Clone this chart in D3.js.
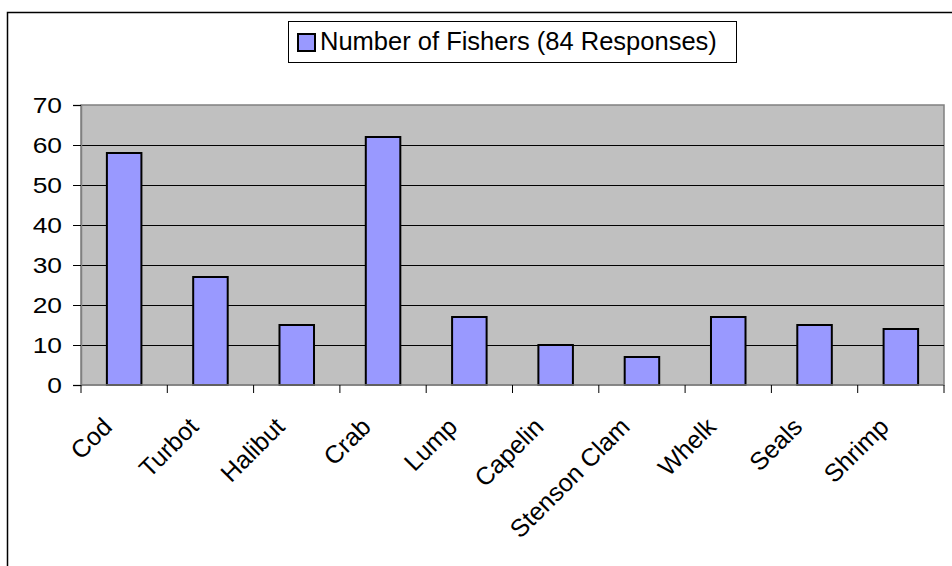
<!DOCTYPE html>
<html>
<head>
<meta charset="utf-8">
<script src="https://cdn.jsdelivr.net/npm/d3@7"></script>
<style>
  html, body { margin: 0; padding: 0; background: #fff; }
  svg { display: block; }
  text { font-family: "Liberation Sans", Arial, sans-serif; fill: #000; }
</style>
</head>
<body>
<svg id="chart" width="952" height="566"></svg>
<script>
// Species reported by fishers
const categories = ["Cod", "Turbot", "Halibut", "Crab", "Lump", "Capelin", "Stenson Clam", "Whelk", "Seals", "Shrimp"];
const fisherCounts = [58, 27, 15, 62, 17, 10, 7, 17, 15, 14];
const yTicks = [0, 10, 20, 30, 40, 50, 60, 70];
const seriesName = "Number of Fishers (84 Responses)";

const svg = d3.select("#chart");
const W = 952, H = 566;
const plot = { left: 81, right: 944, top: 105, bottom: 385 };

// Outer chart frame (runs off the right and bottom edges)
svg.append("rect")
  .attr("x", 7.5).attr("y", 12.5)
  .attr("width", W).attr("height", H)
  .attr("fill", "#fff").attr("stroke", "#000").attr("stroke-width", 1.5);

const x = d3.scaleBand().domain(categories).range([plot.left, plot.right]).paddingInner(0.6).paddingOuter(0.3);
const xEdge = d3.scaleLinear().domain([0, categories.length]).range([plot.left, plot.right]);
const y = d3.scaleLinear().domain([0, 70]).range([plot.bottom, plot.top]);

// Plot area
svg.append("rect")
  .attr("x", plot.left).attr("y", plot.top)
  .attr("width", plot.right - plot.left).attr("height", plot.bottom - plot.top)
  .attr("fill", "#c0c0c0").attr("stroke", "#808080").attr("stroke-width", 1.5);

// Gridlines
svg.append("g").selectAll("line")
  .data(yTicks.filter(d => d > 0 && d < 70))
  .join("line")
  .attr("x1", plot.left).attr("x2", plot.right)
  .attr("y1", d => Math.round(y(d)) + 0.5).attr("y2", d => Math.round(y(d)) + 0.5)
  .attr("stroke", "#000").attr("stroke-width", 1);

// Bars
svg.append("g").selectAll("rect")
  .data(categories.map((c, i) => ({ c, v: fisherCounts[i] })))
  .join("rect")
  .attr("x", d => x(d.c))
  .attr("y", d => y(d.v))
  .attr("width", x.bandwidth())
  .attr("height", d => y(0) - y(d.v))
  .attr("fill", "#9999ff")
  .attr("stroke", "#000").attr("stroke-width", 2);

// Y axis; labels use a slightly widened face
const yStretch = 1.2;
const yAxis = svg.append("g").attr("transform", `translate(${plot.left},0)`)
  .call(d3.axisLeft(y).tickValues(yTicks).tickSize(8).tickPadding(19));
yAxis.select(".domain").attr("stroke", "#808080").attr("stroke-width", 1.5);
yAxis.selectAll(".tick line").attr("stroke", "#000");
yAxis.selectAll(".tick text")
  .attr("font-size", 22)
  .attr("font-family", "Liberation Sans, Arial, sans-serif")
  .attr("fill", "#000")
  .attr("x", -19 / yStretch)
  .attr("dy", "0.36em")
  .attr("transform", `scale(${yStretch},1)`);

// X axis baseline and category dividers
svg.append("line")
  .attr("x1", plot.left).attr("x2", plot.right)
  .attr("y1", plot.bottom).attr("y2", plot.bottom)
  .attr("stroke", "#808080").attr("stroke-width", 1.5);
svg.append("g").selectAll("line")
  .data(d3.range(categories.length + 1))
  .join("line")
  .attr("x1", d => xEdge(d)).attr("x2", d => xEdge(d))
  .attr("y1", plot.bottom).attr("y2", plot.bottom + 8)
  .attr("stroke", "#000").attr("stroke-width", 1);

// Category labels, rotated 45 degrees
svg.append("g").selectAll("text")
  .data(categories)
  .join("text")
  .attr("transform", d => `translate(${x(d) + x.bandwidth() / 2 - 23},${plot.bottom + 31}) rotate(-45)`)
  .attr("text-anchor", "end")
  .attr("dy", "0.7em")
  .attr("font-size", 25)
  .text(d => d);

// Legend
const legend = svg.append("g");
legend.append("rect")
  .attr("x", 288.5).attr("y", 21.5).attr("width", 448).attr("height", 41)
  .attr("fill", "#fff").attr("stroke", "#000").attr("stroke-width", 1);
legend.append("rect")
  .attr("x", 298).attr("y", 34).attr("width", 17).attr("height", 17)
  .attr("fill", "#9999ff").attr("stroke", "#000").attr("stroke-width", 2);
legend.append("text")
  .attr("x", 320).attr("y", 49.5)
  .attr("font-size", 25.5)
  .text(seriesName);
</script>
</body>
</html>
